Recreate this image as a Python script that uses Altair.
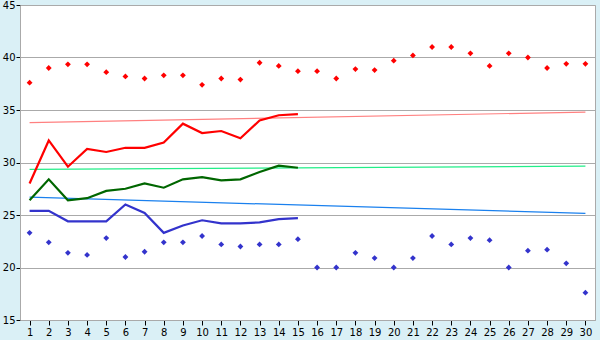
import altair as alt
import pandas as pd

days = list(range(1, 31))
max_temp = [37.6, 39.0, 39.35, 39.35, 38.6, 38.2, 38.0, 38.3, 38.3, 37.4,
            38.0, 37.9, 39.5, 39.2, 38.7, 38.7, 38.0, 38.9, 38.8, 39.7,
            40.2, 41.0, 41.0, 40.4, 39.2, 40.4, 40.0, 39.0, 39.4, 39.4]
min_temp = [23.3, 22.4, 21.4, 21.2, 22.8, 21.0, 21.5, 22.4, 22.4, 23.0,
            22.2, 22.0, 22.2, 22.2, 22.7, 20.0, 20.0, 21.4, 20.9, 20.0,
            20.9, 23.0, 22.2, 22.8, 22.6, 20.0, 21.6, 21.7, 20.4, 17.6]
line_days = list(range(1, 16))
red_line = [28.0, 32.1, 29.6, 31.3, 31.0, 31.4, 31.4, 31.9, 33.7, 32.8,
            33.0, 32.3, 34.0, 34.5, 34.6]
green_line = [26.4, 28.4, 26.4, 26.6, 27.3, 27.5, 28.0, 27.6, 28.4, 28.6,
              28.3, 28.4, 29.1, 29.7, 29.5]
blue_line = [25.4, 25.4, 24.4, 24.4, 24.4, 26.0, 25.2, 23.3, 24.0, 24.5,
             24.2, 24.2, 24.3, 24.6, 24.7]
trend_days = [1, 30]
red_trend = [33.8, 34.8]
green_trend = [29.35, 29.65]
blue_trend = [26.7, 25.15]
y_ticks = [15, 20, 25, 30, 35, 40, 45]

x_scale = alt.Scale(domain=[0.5, 30.5], nice=False, zero=False)
y_scale = alt.Scale(domain=[15, 45], nice=False, zero=False)

x_enc = alt.X("day:Q", scale=x_scale,
              axis=alt.Axis(values=days, title=None, grid=False, tickSize=5,
                            tickColor="#000000", domainColor="#aaaaaa",
                            labelFontSize=10, labelFont="DejaVu Sans",
                            labelColor="#000000", labelPadding=2, labelFlush=False))
y_enc = alt.Y("v:Q", scale=y_scale,
              axis=alt.Axis(values=y_ticks, title=None, grid=True, gridColor="#aaaaaa",
                            gridWidth=1, tickSize=4, tickColor="#000000",
                            domainColor="#aaaaaa", labelFontSize=10,
                            labelFont="DejaVu Sans", labelColor="#000000",
                            labelPadding=1, labelFlush=False))


def line_layer(xs, ys, color, width):
    df = pd.DataFrame({"day": xs, "v": ys})
    return alt.Chart(df).mark_line(color=color, strokeWidth=width, interpolate="linear").encode(
        x=x_enc, y=y_enc)


def point_layer(xs, ys, color):
    df = pd.DataFrame({"day": xs, "v": ys})
    return alt.Chart(df).mark_point(shape="diamond", filled=True, color=color,
                                    size=34, opacity=1).encode(x=x_enc, y=y_enc)


chart = alt.layer(
    line_layer(trend_days, red_trend, "#ff8080", 1.2),
    line_layer(trend_days, green_trend, "#22ee88", 1.2),
    line_layer(trend_days, blue_trend, "#1a80ee", 1.2),
    line_layer(line_days, red_line, "#ff0000", 2.2),
    line_layer(line_days, green_line, "#006600", 2.2),
    line_layer(line_days, blue_line, "#3333cc", 2.2),
    point_layer(days, max_temp, "#ff0000"),
    point_layer(days, min_temp, "#3333cc"),
).properties(
    width=575, height=315,
    background="#daf0f6",
    autosize=alt.AutoSizeParams(type="none"),
    padding={"left": 20, "top": 5, "right": 5, "bottom": 20},
).configure_view(
    fill="#ffffff", stroke="#aaaaaa", strokeWidth=1
)

chart.save("out.html", embed_options={"renderer": "svg", "actions": False})
